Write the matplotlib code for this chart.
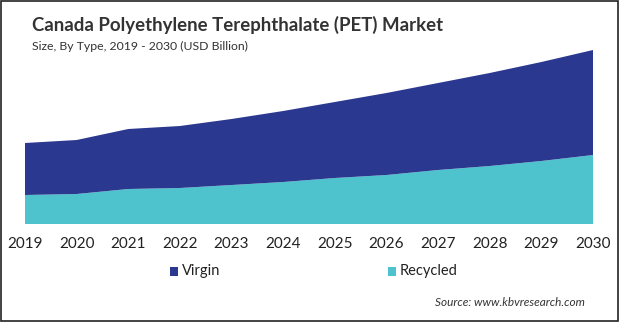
import matplotlib.pyplot as plt
from matplotlib.patches import Rectangle

# =====================================================
# Data (USD Billion)
# =====================================================

years = [2019, 2020, 2021, 2022, 2023, 2024, 2025, 2026, 2027, 2028, 2029, 2030]
recycled = [0.29, 0.30, 0.35, 0.36, 0.39, 0.42, 0.46, 0.49, 0.54, 0.58, 0.63, 0.69]
virgin = [0.52, 0.54, 0.60, 0.62, 0.66, 0.71, 0.76, 0.82, 0.87, 0.93, 0.99, 1.05]

series_names = ["Virgin", "Recycled"]
colors = ["#2B388F", "#4EC3CE"]

plt.rcParams["font.family"] = ["Lato", "DejaVu Sans"]

fig = plt.figure(figsize=(6.19, 3.22), dpi=100)

# frame around the whole picture
fig.patches.append(Rectangle((0.001, 0.002), 0.997, 0.995, transform=fig.transFigure,
                             fill=False, edgecolor="#222222", linewidth=1.2))

ax = fig.add_axes([25 / 619, 1 - 224 / 322, 568 / 619, 184 / 322])

ax.stackplot(years, recycled, virgin, colors=[colors[1], colors[0]], linewidth=0)

ax.set_xlim(2019, 2030)
ax.set_ylim(0, 1.84)
ax.set_xticks(years)
ax.set_xticklabels([str(y) for y in years], fontsize=11, color="#222222")
ax.tick_params(axis="x", length=0, pad=9)
ax.set_yticks([])
for s in ax.spines.values():
    s.set_visible(False)

# =====================================================
# Titles
# =====================================================

fig.text(32 / 619, 1 - 25 / 322, "Canada Polyethylene Terephthalate (PET) Market",
         fontsize=13.4, fontweight="bold", color="#333333", va="center")
fig.text(32 / 619, 1 - 46 / 322, "Size, By Type, 2019 - 2030 (USD Billion)",
         fontsize=8.8, color="#333333", va="center")

# =====================================================
# Legend
# =====================================================

leg_y = 1 - 271 / 322
for name, col, x in zip(series_names, colors, [174, 392]):
    fig.patches.append(Rectangle(((x - 4) / 619, leg_y - 4.5 / 322), 8 / 619, 9 / 322,
                                 transform=fig.transFigure, facecolor=col, edgecolor="none"))
    fig.text((x + 8) / 619, leg_y, name, fontsize=10.5, color="#222222", va="center")

fig.text(585 / 619, 1 - 303 / 322, "Source: www.kbvresearch.com", fontsize=8.5,
         style="italic", color="#333333", ha="right", va="center")

plt.savefig("out.png", dpi=100)
